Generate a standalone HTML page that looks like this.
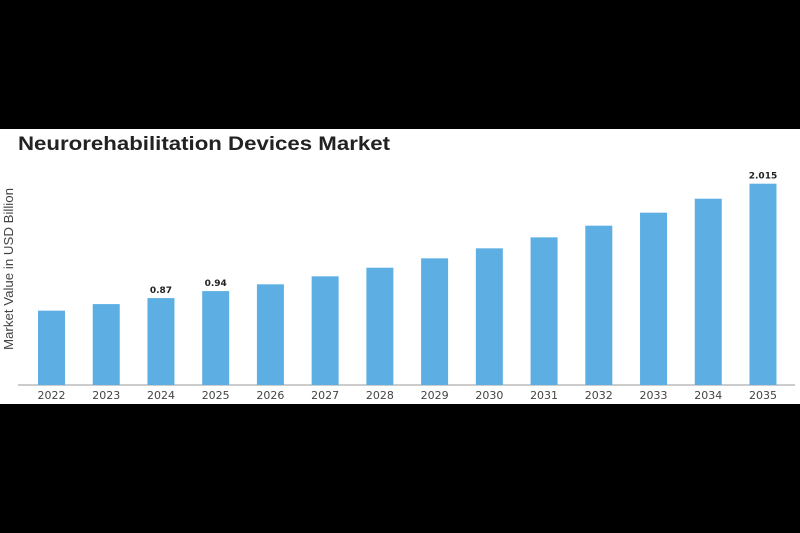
<!DOCTYPE html>
<html><head><meta charset="utf-8"><style>
body{margin:0;background:#000;width:800px;height:533px;overflow:hidden;font-family:"Liberation Sans",sans-serif}
#panel{position:absolute;left:0;top:129px;width:800px;height:275px;background:#fff}
</style></head><body>
<div id="panel"></div>
<svg id="chart" width="800" height="533" style="position:absolute;left:0;top:0">
<text x="18" y="150" font-size="19.5" font-weight="bold" fill="#222" textLength="372" lengthAdjust="spacingAndGlyphs">Neurorehabilitation Devices Market</text>
<text transform="translate(13,269) rotate(-90)" text-anchor="middle" font-size="12.5" fill="#444" textLength="162" lengthAdjust="spacingAndGlyphs">Market Value in USD Billion</text>
<line x1="18" y1="385" x2="795" y2="385" stroke="#bbb" stroke-width="1.5"/>
<g id="bars"></g>
</svg>
<script>
const categories=["2022","2023","2024","2025","2026","2027","2028","2029","2030","2031","2032","2033","2034","2035"];
const values=[0.744,0.81,0.87,0.94,1.008,1.088,1.174,1.268,1.368,1.478,1.595,1.725,1.865,2.015];
const labels=[null,null,"0.87","0.94",null,null,null,null,null,null,null,null,null,"2.015"];
const baseY=385, pxPerUnit=99.9, x0=51.5, step=54.73, bw=27;
const xPos=i=>x0+i*step;
const yPos=v=>baseY-v*pxPerUnit;
const g=document.getElementById('bars');
const NS='http://www.w3.org/2000/svg';
categories.forEach((c,i)=>{
  const r=document.createElementNS(NS,'rect');
  r.setAttribute('x',xPos(i)-bw/2);r.setAttribute('y',yPos(values[i]));
  r.setAttribute('width',bw);r.setAttribute('height',baseY-yPos(values[i]));
  r.setAttribute('fill','#5dafe3');
  
  
  g.appendChild(r);
  const t=document.createElementNS(NS,'text');
  t.setAttribute('x',xPos(i));t.setAttribute('y',399);
  t.setAttribute('text-anchor','middle');t.setAttribute('font-size','11');t.setAttribute('fill','#444');
  t.setAttribute('font-family','DejaVu Sans, sans-serif');
  t.textContent=c;
  
  
  g.appendChild(t);
  if(labels[i]){
    const l=document.createElementNS(NS,'text');
    l.setAttribute('x',xPos(i));l.setAttribute('y',yPos(values[i])-5);
    l.setAttribute('text-anchor','middle');l.setAttribute('font-size','9');l.setAttribute('font-weight','bold');l.setAttribute('fill','#222');
    l.setAttribute('font-family','DejaVu Sans, sans-serif');
    l.textContent=labels[i];
    
    
    g.appendChild(l);
  }
});
</script>
</body></html>
